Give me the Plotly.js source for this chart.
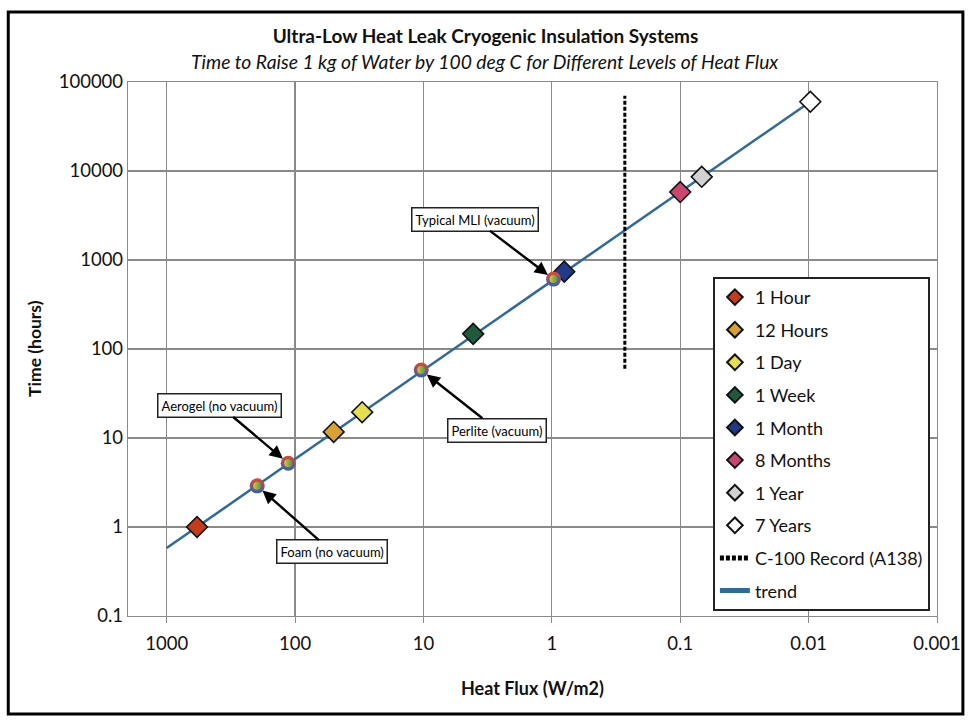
<!DOCTYPE html>
<html>
<head>
<meta charset="utf-8">
<script src="https://cdn.plot.ly/plotly-3.0.1.min.js"></script>
<style>html,body{margin:0;padding:0;background:#fff}#chart{width:971px;height:723px}</style>
</head>
<body>
<div id="chart"></div>
<script>
// ---- data ----
const legendNames = ["1 Hour", "12 Hours", "1 Day", "1 Week", "1 Month", "8 Months", "1 Year", "7 Years"];
const legendFlux  = [580, 50, 30, 4.1, 0.8, 0.1, 0.068, 0.0097];      // W/m2
const legendTime  = [1, 11.7, 19.5, 148, 740, 5800, 8600, 60000];     // hours
const legendColors = ["#c43c1c", "#d9a032", "#e6de4e", "#1f5a3c", "#1f3a88", "#c9466f", "#d2d2d2", "#ffffff"];

const insulNames = ["Foam (no vacuum)", "Aerogel (no vacuum)", "Perlite (vacuum)", "Typical MLI (vacuum)"];
const insulFlux  = [197, 113, 10.4, 0.97];
const insulTime  = [2.9, 5.2, 58, 610];
const insulOffX  = [75, -69, 76, -79];   // label offsets (px)
const insulOffY  = [66, -58, 60, -60];

const recordFlux = [0.27, 0.27];
const recordTime = [60, 70000];

const trendFlux = [1000, 0.0097];
const trendTime = [0.58, 60000];

const xTickVals = [1000, 100, 10, 1, 0.1, 0.01, 0.001];
const xTickText = ["1000", "100", "10", "1", "0.1", "0.01", "0.001"];
const yTickVals = [0.1, 1, 10, 100, 1000, 10000, 100000];
const yTickText = ["0.1", "1", "10", "100", "1000", "10000", "100000"];

const FONT = "Lato, 'Open Sans', sans-serif";

const traces = [];
// trend line (drawn under markers)
traces.push({
  x: trendFlux, y: trendTime, type: "scatter", mode: "lines", name: "trend",
  line: {color: "#2f6b9a", width: 2.5}, legendrank: 10, legendgroup: "g10", hoverinfo: "skip"
});
traces.push({
  x: recordFlux, y: recordTime, type: "scatter", mode: "lines", name: "C-100 Record (A138)",
  line: {color: "#000", width: 3, dash: "4px,2px"}, legendrank: 9, legendgroup: "g9"
});
legendNames.forEach((n, i) => {
  traces.push({
    x: [legendFlux[i]], y: [legendTime[i]], type: "scatter", mode: "markers", name: n,
    marker: {symbol: "diamond", size: 16, color: legendColors[i], line: {color: "#111", width: 1.6}},
    legendrank: i + 1, legendgroup: "g" + (i + 1)
  });
});
// rainbow insulation markers
traces.push({
  x: insulFlux, y: insulTime, type: "scatter", mode: "markers", showlegend: false,
  marker: {symbol: "circle", size: 15, color: "#e0482a",
           gradient: {type: "vertical", color: "#2f62b8"}, line: {width: 0}}
});
traces.push({
  x: insulFlux, y: insulTime, type: "scatter", mode: "markers", showlegend: false,
  marker: {symbol: "circle", size: 8, color: "rgba(235,215,60,0.85)",
           gradient: {type: "horizontal", color: "rgba(70,160,70,0.85)"}, line: {width: 0}}
});

const annotations = insulNames.map((t, i) => ({
  x: Math.log10(insulFlux[i]), y: Math.log10(insulTime[i]), xref: "x", yref: "y",
  text: t, showarrow: true, ax: insulOffX[i], ay: insulOffY[i],
  arrowhead: 2, arrowsize: 1.1, arrowwidth: 2.4, arrowcolor: "#000", standoff: 7,
  bgcolor: "#fff", bordercolor: "#222", borderwidth: 1.5, borderpad: 3,
  font: {family: FONT, size: 13, color: "#000"}
}));
annotations.push({
  xref: "paper", yref: "paper", x: 0.441, y: 1.0375, xanchor: "center", yanchor: "middle",
  text: "<i>Time to Raise 1 kg of Water by 100 deg C for Different Levels of Heat Flux</i>",
  showarrow: false, font: {family: FONT, size: 19.3, color: "#111"}
});
annotations.push({
  xref: "paper", yref: "paper", x: 0.5, y: -0.135, xanchor: "center", yanchor: "middle",
  text: "<b>Heat Flux (W/m2)</b>", showarrow: false, font: {family: FONT, size: 18, color: "#111"}
});
annotations.push({
  xref: "paper", yref: "paper", x: -0.115, y: 0.502, xanchor: "center", yanchor: "middle",
  text: "<b>Time (hours)</b>", textangle: -90, showarrow: false, font: {family: FONT, size: 17.5, color: "#111"}
});

const layout = {
  width: 971, height: 723,
  margin: {l: 128, r: 34, t: 82, b: 107},
  paper_bgcolor: "#fff", plot_bgcolor: "#fff",
  font: {family: FONT, color: "#111"},
  title: {text: "<b>Ultra-Low Heat Leak Cryogenic Insulation Systems</b>", x: 0.5, xref: "container",
          y: 0.950, yref: "container", yanchor: "middle", xanchor: "center",
          font: {family: FONT, size: 19, color: "#111"}},
  xaxis: {type: "log", range: [Math.log10(2000), -3], tickvals: xTickVals, ticktext: xTickText,
          showgrid: true, gridcolor: "#8a8a8a", gridwidth: 1.2, zeroline: false,
          showline: true, linecolor: "#8a8a8a", linewidth: 1.2, mirror: true,
          ticks: "outside", ticklen: 6, tickcolor: "#8a8a8a", ticklabelstandoff: 5,
          tickfont: {family: FONT, size: 18.5, color: "#111"}},
  yaxis: {type: "log", range: [-1, 5], tickvals: yTickVals, ticktext: yTickText,
          showgrid: true, gridcolor: "#8a8a8a", gridwidth: 1.2, zeroline: false,
          showline: true, linecolor: "#8a8a8a", linewidth: 1.2, mirror: true,
          ticks: "", tickfont: {family: FONT, size: 18.5, color: "#111"}},
  legend: {x: 0.723, y: 0.635, xanchor: "left", yanchor: "top", bgcolor: "#fff",
           bordercolor: "#222", borderwidth: 2, traceorder: "grouped", itemsizing: "constant",
           font: {family: FONT, size: 18, color: "#111"}, tracegroupgap: 6.2},
  showlegend: true,
  annotations: annotations,
  shapes: [{type: "rect", xref: "paper", yref: "paper", x0: -0.148, x1: 1.032, y0: -0.1835, y1: 1.131,
            line: {color: "#000", width: 3}, fillcolor: "rgba(0,0,0,0)", layer: "below"}]
};

Plotly.newPlot("chart", traces, layout, {displayModeBar: false, staticPlot: true});
</script>
</body>
</html>
